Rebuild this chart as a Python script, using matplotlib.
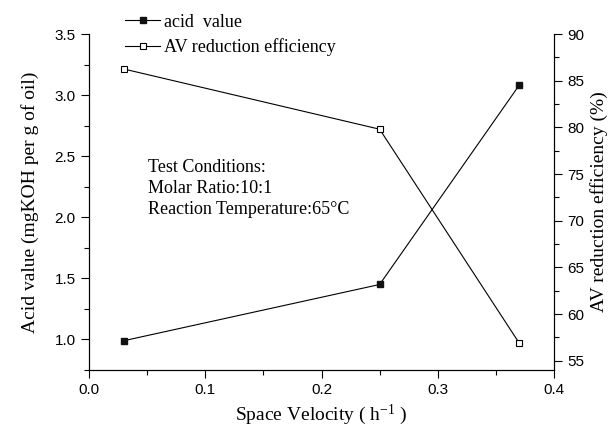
import numpy as np
import matplotlib
matplotlib.use('Agg')
import matplotlib.pyplot as plt
from matplotlib.ticker import MultipleLocator

space_velocity = [0.03, 0.25, 0.37]
acid_value = [0.99, 1.45, 3.08]
av_efficiency = [86.25, 79.8, 56.9]

serif = 'Liberation Serif'
sans = 'Liberation Sans'

plt.rcParams['mathtext.fontset'] = 'custom'
plt.rcParams['mathtext.rm'] = serif
plt.rcParams['mathtext.it'] = serif + ':italic'

fig = plt.figure(figsize=(6.11, 4.3), dpi=100)
ax = fig.add_axes([0.1457, 0.1395, 0.761, 0.7814])
ax2 = ax.twinx()

l1, = ax.plot(space_velocity, acid_value, color='black', lw=0.8,
              marker='s', ms=5, mfc='#111111', mec='#111111')
l2, = ax2.plot(space_velocity, av_efficiency, color='black', lw=0.8,
               marker='s', ms=5, mfc='white', mec='black', mew=0.8)

ax.set_xlim(0, 0.4)
ax.set_ylim(0.75, 3.5)
ax2.set_ylim(54, 90)

ax.xaxis.set_minor_locator(MultipleLocator(0.05))
ax.yaxis.set_minor_locator(MultipleLocator(0.25))
ax2.yaxis.set_minor_locator(MultipleLocator(2.5))

for a in (ax, ax2):
    a.spines['top'].set_visible(False)
    for s in a.spines.values():
        s.set_linewidth(0.8)
    a.tick_params(which='major', direction='out', length=6, width=0.8, labelsize=11)
    a.tick_params(which='minor', direction='out', length=3.5, width=0.8)

ax.set_xticks([0.0, 0.1, 0.2, 0.3, 0.4])
ax.set_xticklabels(['0.0', '0.1', '0.2', '0.3', '0.4'], fontfamily=sans, fontsize=11)
ax.set_yticks([1.0, 1.5, 2.0, 2.5, 3.0, 3.5])
ax.set_yticklabels(['1.0', '1.5', '2.0', '2.5', '3.0', '3.5'], fontfamily=sans, fontsize=11)
ax2.set_yticks([55, 60, 65, 70, 75, 80, 85, 90])
ax2.set_yticklabels(['55', '60', '65', '70', '75', '80', '85', '90'], fontfamily=sans, fontsize=11)

ax.set_xlabel('Space Velocity ( h$^{\\mathrm{-1}}$ )', fontfamily=serif, fontsize=14)
ax.set_ylabel('Acid value (mgKOH per g of oil)', fontfamily=serif, fontsize=14, labelpad=11)
ax2.set_ylabel('AV reduction efficiency (%)', fontfamily=serif, fontsize=14)

ax.text(0.127, 0.627, 'Test Conditions:\nMolar Ratio:10:1\nReaction Temperature:65\u00b0C',
        transform=ax.transAxes, fontfamily=serif, fontsize=13, va='top',
        linespacing=1.3)

fig.legend([l1, l2], ['acid  value', 'AV reduction efficiency'],
           loc='upper left', bbox_to_anchor=(0.2046, 0.968), frameon=False,
           prop={'family': serif, 'size': 13}, handlelength=1.95,
           handletextpad=0.22, labelspacing=0.4, borderpad=0,
           borderaxespad=0, markerscale=1.0)

fig.savefig('out.png', dpi=100)
